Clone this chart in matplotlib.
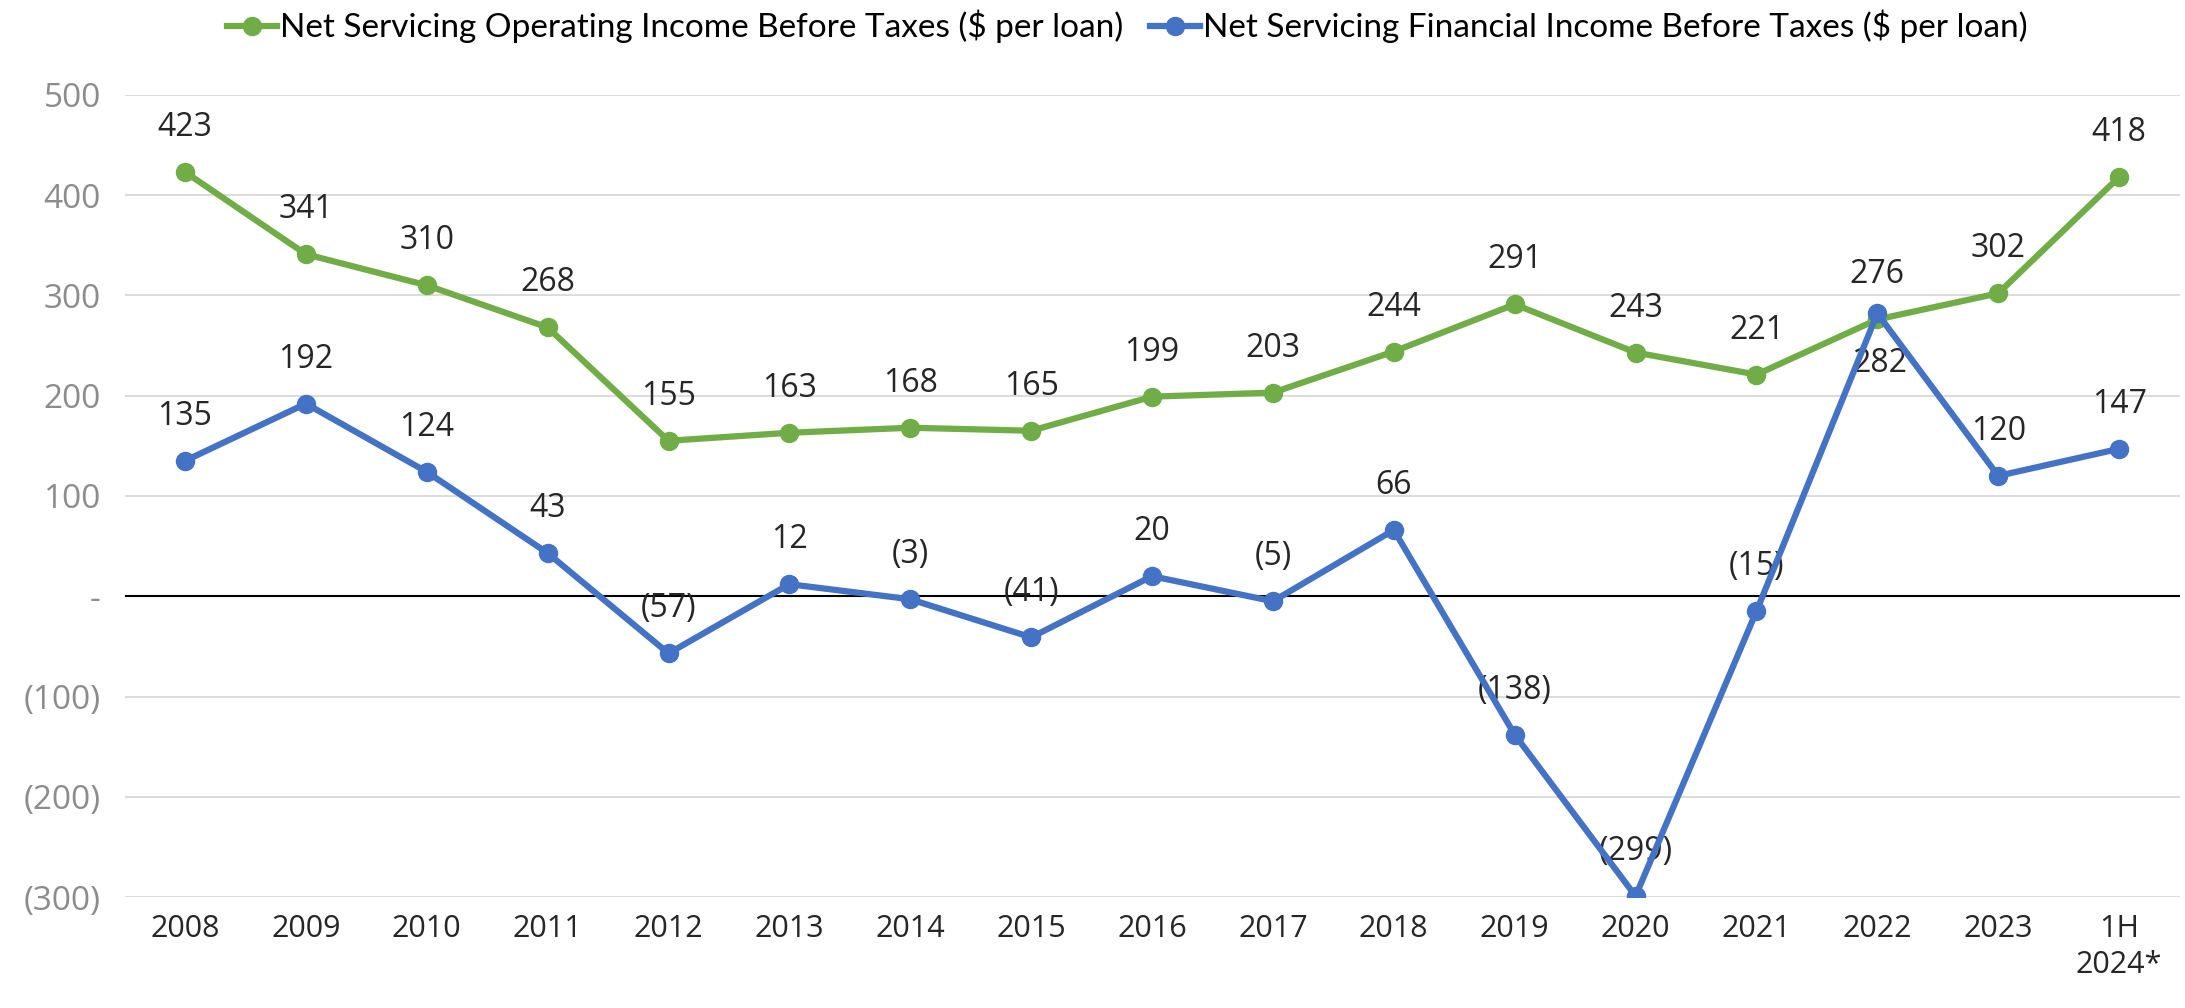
import numpy as np
import matplotlib
matplotlib.use("Agg")
import matplotlib.pyplot as plt

# chart data
years = ["2008", "2009", "2010", "2011", "2012", "2013", "2014", "2015", "2016",
         "2017", "2018", "2019", "2020", "2021", "2022", "2023", "1H\n2024*"]
operating = [423, 341, 310, 268, 155, 163, 168, 165, 199, 203, 244, 291, 243, 221, 276, 302, 418]
financial = [135, 192, 124, 43, -57, 12, -3, -41, 20, -5, 66, -138, -299, -15, 282, 120, 147]
y_ticks = [-300, -200, -100, 0, 100, 200, 300, 400, 500]

GREEN = "#70AD47"
BLUE = "#4472C4"
NUM_FONT = ["Open Sans", "DejaVu Sans"]
TXT_FONT = ["Lato", "DejaVu Sans"]


def fmt(v):
    if v == 0:
        return "-"
    if v < 0:
        return f"({-v})"
    return f"{v}"


fig = plt.figure(figsize=(21.85, 10.08), dpi=100)
ax = fig.add_axes([0.057, 0.110, 0.9405, 0.796])
x = np.arange(len(years))

ax.plot(x, operating, color=GREEN, lw=4.5, marker="o", ms=13, zorder=3,
        label="Net Servicing Operating Income Before Taxes ($ per loan)")
ax.plot(x, financial, color=BLUE, lw=4.5, marker="o", ms=13, zorder=4,
        label="Net Servicing Financial Income Before Taxes ($ per loan)")

for xi, v in zip(x, operating):
    ax.annotate(fmt(v), (xi, v), xytext=(0, 32), textcoords="offset points",
                ha="center", va="center", fontsize=23, color="#262626", family=NUM_FONT)
for xi, v in zip(x, financial):
    off = (2, -36) if v == 282 else (0, 32)
    ax.annotate(fmt(v), (xi, v), xytext=off, textcoords="offset points",
                ha="center", va="center", fontsize=23, color="#262626", family=NUM_FONT)

ax.set_xlim(-0.5, len(years) - 0.5)
ax.set_ylim(-300, 500)
ax.set_yticks(y_ticks)
ax.set_yticklabels([fmt(t) for t in y_ticks], fontsize=24, color="#8c8c8c", family=NUM_FONT)
ax.set_xticks(x)
ax.set_xticklabels(years, fontsize=22, color="#262626", family=NUM_FONT, linespacing=1.25)
ax.tick_params(length=0, pad=12)
ax.tick_params(axis="y", pad=17)
ax.grid(axis="y", color="#d9d9d9", lw=1.3)
ax.axhline(0, color="black", lw=1.5, zorder=2)
for s in ax.spines.values():
    s.set_visible(False)
ax.set_axisbelow(True)

ax.legend(loc="center", bbox_to_anchor=(0.488, 1.085),
          ncol=2, frameon=False, handlelength=1.5, handletextpad=0.1, columnspacing=0.8,
          prop={"family": TXT_FONT, "size": 24})

fig.savefig("out.png", dpi=100)
